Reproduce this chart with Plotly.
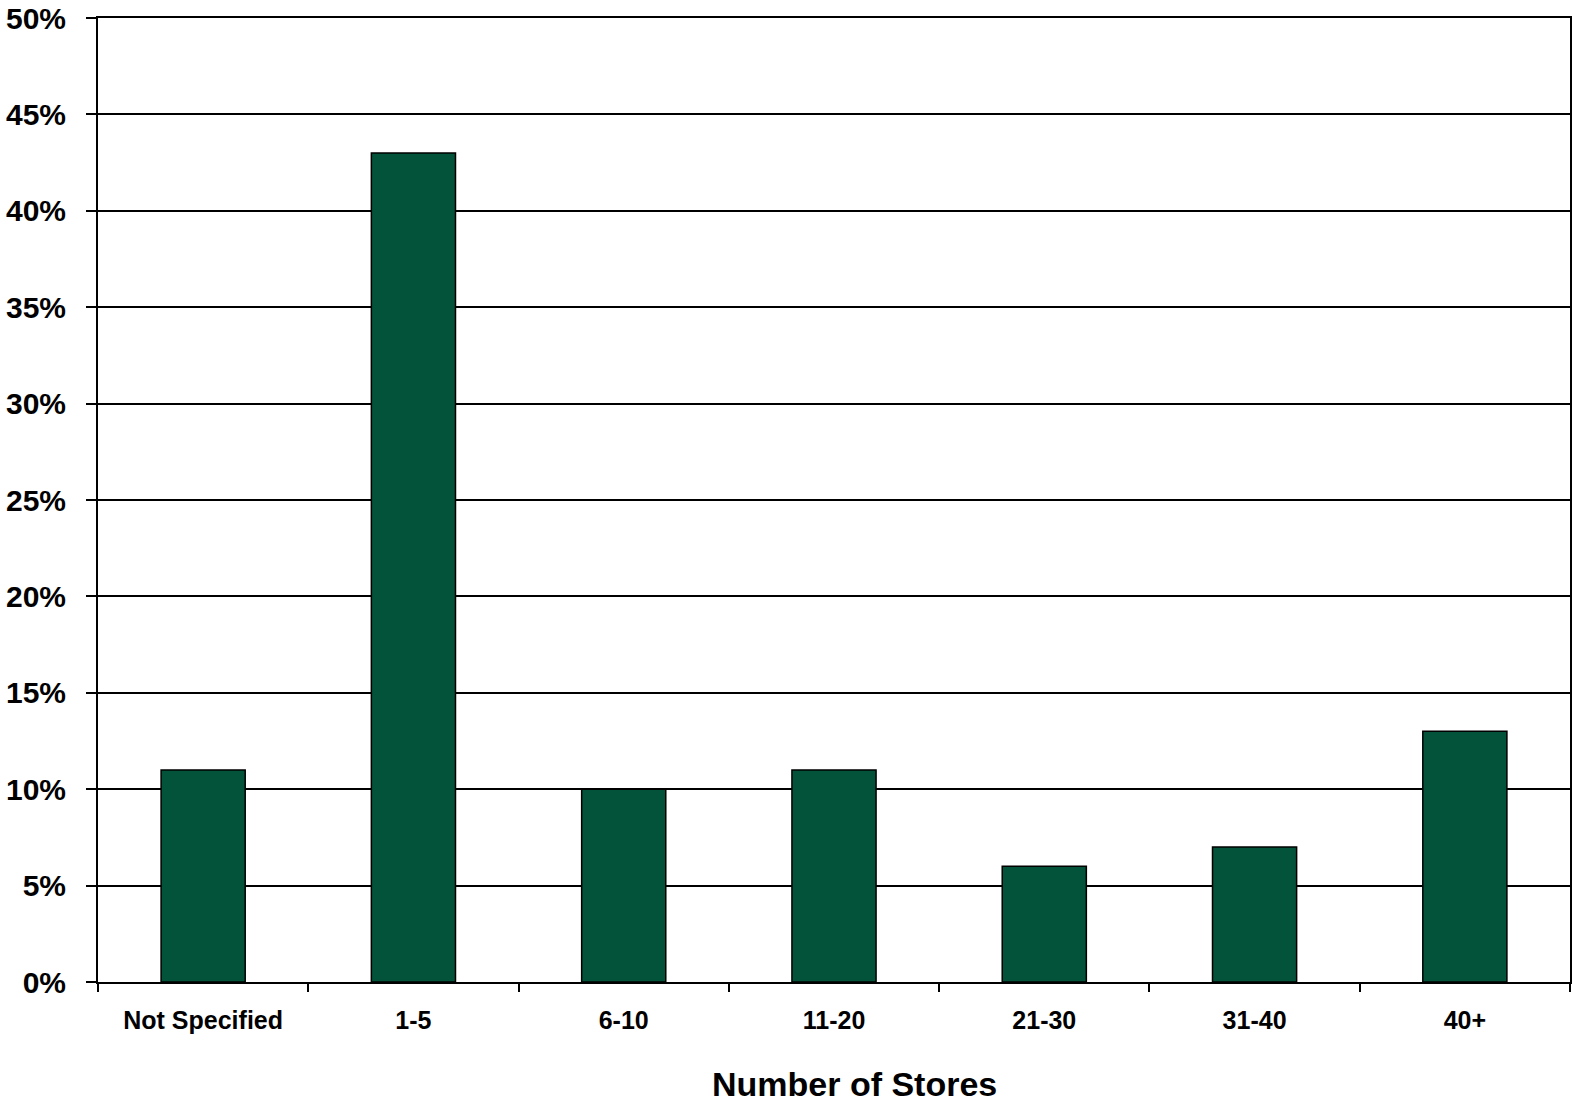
import plotly.graph_objects as go

categories = ["Not Specified", "1-5", "6-10", "11-20", "21-30", "31-40", "40+"]
shares = [11, 43, 10, 11, 6, 7, 13]
y_ticks = [0, 5, 10, 15, 20, 25, 30, 35, 40, 45, 50]
y_tick_labels = [f"{v}%" for v in y_ticks]
x_title = "Number of Stores"

FONT = "Arial, Liberation Sans, sans-serif"

fig = go.Figure(
    go.Bar(
        x=categories,
        y=shares,
        marker=dict(color="#03533A", line=dict(color="#000000", width=1.5)),
        hoverinfo="x+y",
    )
)

fig.update_layout(
    width=1573,
    height=1103,
    margin=dict(l=98, r=3, t=18, b=121, autoexpand=False),
    paper_bgcolor="white",
    plot_bgcolor="white",
    bargap=0.6,
    showlegend=False,
    font=dict(family=FONT, color="black"),
    annotations=[
        dict(
            text=f"<b>{x_title}</b>",
            xref="paper",
            yref="paper",
            x=0.5136,
            y=-0.106,
            xanchor="center",
            yanchor="middle",
            showarrow=False,
            font=dict(family=FONT, size=34, color="black"),
        )
    ],
)

fig.update_xaxes(
    type="category",
    automargin=False,
    showline=True,
    linecolor="black",
    linewidth=2,
    mirror=True,
    ticks="outside",
    tickson="boundaries",
    ticklen=8,
    tickwidth=2,
    tickcolor="black",
    showgrid=False,
    tickfont=dict(family=FONT, size=25, color="black", weight="bold"),
    ticklabelstandoff=15,
)

fig.update_yaxes(
    range=[0, 50],
    automargin=False,
    tickvals=y_ticks,
    ticktext=y_tick_labels,
    showline=True,
    linecolor="black",
    linewidth=2,
    mirror=True,
    ticks="outside",
    ticklen=10,
    tickwidth=2,
    tickcolor="black",
    showgrid=True,
    gridcolor="black",
    gridwidth=1.5,
    zeroline=False,
    tickfont=dict(family=FONT, size=30, color="black", weight="bold"),
    ticklabelstandoff=14,
)

fig.write_html("out.html")
